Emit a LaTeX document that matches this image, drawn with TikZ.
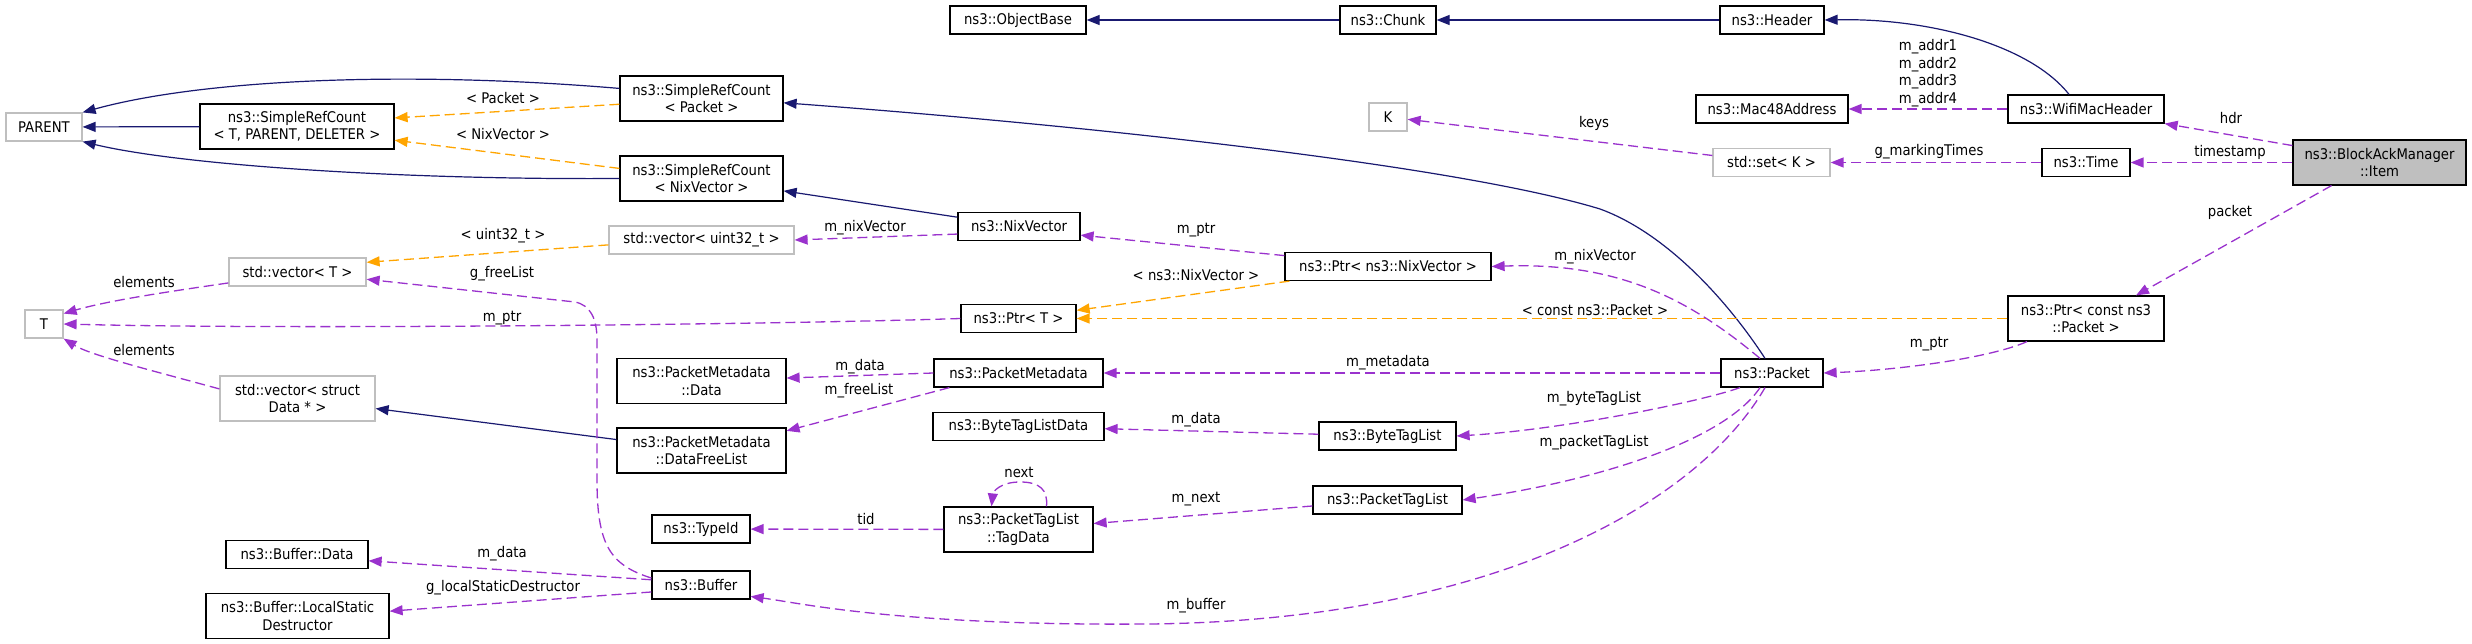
\documentclass[tikz,border=0pt]{standalone}
\usepackage{fontspec}
\setmainfont{DejaVu Sans Condensed}
\usetikzlibrary{arrows.meta}
\definecolor{inhblue}{HTML}{191970}
\definecolor{tmplorange}{HTML}{FFA500}
\definecolor{usepurple}{HTML}{9A32CD}
\definecolor{extgray}{HTML}{BFBFBF}
\begin{document}
\begin{tikzpicture}[x=1pt, y=-1pt,
    font=\fontsize{14.7}{17.5}\selectfont,
    cls/.style={draw=black, line width=1.2pt, fill=white, inner sep=0pt, minimum height=28pt, align=center},
    extcls/.style={cls, draw=extgray},
    focuscls/.style={cls, fill=extgray},
    twoline/.style={minimum height=45pt},
    inherit/.style={draw=inhblue, line width=1.2pt, -{Triangle[length=13pt,width=10pt]}},
    templ/.style={draw=tmplorange, line width=1.3pt, dash pattern=on 10pt off 5pt, -{Triangle[length=13pt,width=10pt]}},
    member/.style={draw=usepurple, line width=1.3pt, dash pattern=on 10pt off 5pt, -{Triangle[length=13pt,width=10pt]}},
    lbl/.style={inner sep=1pt, align=center}]
  \useasboundingbox (0,0) rectangle (2472,644);
  % classes
  \node[extcls, minimum width=76pt] (parent) at (44,127) {PARENT};
  \node[cls, twoline, minimum width=194pt] (srct) at (297,126.5) {ns3::SimpleRefCount\\< T, PARENT, DELETER >};
  \node[cls, twoline, minimum width=163pt] (srcpk) at (701.5,98.5) {ns3::SimpleRefCount\\< Packet >};
  \node[cls, twoline, minimum width=163pt] (srcnv) at (701.5,178.5) {ns3::SimpleRefCount\\< NixVector >};
  \node[extcls, minimum width=185pt] (vecu) at (701.5,240) {std::vector< uint32\_t >};
  \node[extcls, minimum width=137pt] (vect) at (297.5,272) {std::vector< T >};
  \node[extcls, minimum width=38pt] (tt) at (44,324) {T};
  \node[extcls, twoline, minimum width=155pt] (vecd) at (297.5,398.5) {std::vector< struct\\Data * >};
  \node[cls, twoline, minimum width=169pt] (pmdata) at (701.5,381) {ns3::PacketMetadata\\::Data};
  \node[cls, twoline, minimum width=169pt] (pmfree) at (701.5,450.5) {ns3::PacketMetadata\\::DataFreeList};
  \node[cls, minimum width=98pt] (typeid) at (701,529) {ns3::TypeId};
  \node[cls, minimum width=142pt] (bufdata) at (297,554.5) {ns3::Buffer::Data};
  \node[cls, minimum width=98pt] (buffer) at (701,585) {ns3::Buffer};
  \node[cls, twoline, minimum width=183pt] (bufdtor) at (297.5,616) {ns3::Buffer::LocalStatic\\Destructor};
  \node[cls, minimum width=136pt] (objbase) at (1018,20) {ns3::ObjectBase};
  \node[cls, minimum width=96pt] (chunk) at (1388,20) {ns3::Chunk};
  \node[extcls, minimum width=38pt] (kk) at (1388,117) {K};
  \node[cls, minimum width=122pt] (nixvec) at (1019,226.5) {ns3::NixVector};
  \node[cls, minimum width=206pt] (ptrnv) at (1388,266.5) {ns3::Ptr< ns3::NixVector >};
  \node[cls, minimum width=115pt] (ptrt) at (1018.5,318.5) {ns3::Ptr< T >};
  \node[cls, minimum width=169pt] (pmeta) at (1018.5,373) {ns3::PacketMetadata};
  \node[cls, minimum width=171pt] (btldata) at (1018.5,426.5) {ns3::ByteTagListData};
  \node[cls, minimum width=137pt] (btlist) at (1387.5,436) {ns3::ByteTagList};
  \node[cls, twoline, minimum width=149pt] (ptdata) at (1018.5,529.5) {ns3::PacketTagList\\::TagData};
  \node[cls, minimum width=149pt] (ptlist) at (1387.5,500) {ns3::PacketTagList};
  \node[cls, minimum width=104pt] (header) at (1772,20) {ns3::Header};
  \node[cls, minimum width=152pt] (mac48) at (1772,109) {ns3::Mac48Address};
  \node[cls, minimum width=156pt] (wifihdr) at (2086,109) {ns3::WifiMacHeader};
  \node[extcls, minimum width=117pt] (setk) at (1771.5,162.5) {std::set< K >};
  \node[cls, minimum width=88pt] (time) at (2086,162.5) {ns3::Time};
  \node[focuscls, twoline, minimum width=173pt] (item) at (2379.5,162.5) {ns3::BlockAckManager\\::Item};
  \node[cls, twoline, minimum width=156pt] (ptrpk) at (2086,318.5) {ns3::Ptr< const ns3\\::Packet >};
  \node[cls, minimum width=102pt] (packet) at (1772,373) {ns3::Packet};
  % inheritance
  \draw[inherit] (srct) -- (parent);
  \draw[inherit] (srcpk.173) .. controls (400,70) and (200,80) .. (parent.north east);
  \draw[inherit] (srcnv.west) .. controls (400,180) and (180,165) .. (parent.south east);
  \draw[inherit] ([xshift=-7pt]packet.north) .. controls (1727,300) and (1666,233) .. (1600,209) .. controls (1456,165) and (1083,125) .. (srcpk.-3);
  \draw[inherit] (nixvec) -- (srcnv);
  \draw[inherit] (chunk) -- (objbase);
  \draw[inherit] (header) -- (chunk);
  \draw[inherit] ([xshift=-17pt]wifihdr.north) .. controls (2030,45) and (1930,18) .. (header.east);
  \draw[inherit] (pmfree) -- (vecd);
  % template instances
  \draw[templ] (srcpk.184) -- (srct.5);
  \draw[templ] (srcnv.173) -- (srct.-8);
  \draw[templ] (vecu.183) -- (vect.8);
  \draw[templ] ([xshift=5pt]ptrnv.south west) -- (ptrt.8);
  \draw[templ] (ptrpk) -- (ptrt);
  % members
  \draw[member] (vect.189) .. controls (180,290) and (110,300) .. (tt.28);
  \draw[member] (vecd.173) .. controls (150,370) and (90,355) .. (tt.south east);
  \draw[member] (ptrt.west) .. controls (800,324) and (300,330) .. (tt.east);
  \draw[member] (buffer.172) .. controls (610,565) and (597,545) .. (597,480) -- (597,340) .. controls (597,318) and (590,305) .. (575,302) -- (vect.-6);
  \draw[member] (pmeta.west) -- (pmdata.2);
  \draw[member] ([xshift=16pt]pmeta.south west) -- (pmfree.13);
  \draw[member] (packet) -- (pmeta);
  \draw[member] (btlist) -- (btldata);
  \draw[member] ([xshift=-32pt]packet.south) .. controls (1700,402) and (1560,430) .. (btlist.east);
  \draw[member] ([xshift=-12pt]packet.south) .. controls (1725,440) and (1600,480) .. (ptlist.east);
  \draw[member] (ptlist) -- (ptdata);
  \draw[member] ([xshift=28pt]ptdata.north) .. controls (1048,490) and (1040,482) .. (1020,482) .. controls (1000,482) and (993,492) .. ([xshift=-27pt]ptdata.north);
  \draw[member] (ptdata) -- (typeid);
  \draw[member] (buffer.174) -- (bufdata.-5);
  \draw[member] (buffer.188) -- (bufdtor.3);
  \draw[member] ([xshift=-7pt]packet.south) .. controls (1700,500) and (1500,620) .. (1150,624) .. controls (900,626) and (800,603) .. (buffer.-13);
  \draw[member] ([xshift=-12pt]packet.north) .. controls (1690,300) and (1620,262) .. (ptrnv.east);
  \draw[member] (ptrnv.174) -- (nixvec.-8);
  \draw[member] (nixvec.187) -- (vecu.east);
  \draw[member] (setk) -- (kk);
  \draw[member] (time) -- (setk);
  \draw[member] (wifihdr) -- (mac48);
  \draw[member] (item.169) -- (wifihdr.south east);
  \draw[member] (item) -- (time);
  \draw[member] ([xshift=-48pt]item.south) -- ([xshift=50pt]ptrpk.north);
  \draw[member] ([xshift=-59pt]ptrpk.south) .. controls (1990,358) and (1900,370) .. (packet.east);
  % edge labels
  \node[lbl] (l-pk) at (503,98) {< Packet >};
  \node[lbl] (l-nv) at (503,134) {< NixVector >};
  \node[lbl] (l-u32) at (503,236) {< uint32\_t >};
  \node[lbl] (l-el1) at (144,282) {elements};
  \node[lbl] (l-fl) at (502,274) {g\_freeList};
  \node[lbl] (l-tptr) at (502,318) {m\_ptr};
  \node[lbl] (l-el2) at (144,350) {elements};
  \node[lbl] (l-pmd) at (860,367) {m\_data};
  \node[lbl] (l-pmf) at (859,391) {m\_freeList};
  \node[lbl] (l-meta) at (1388,363) {m\_metadata};
  \node[lbl] (l-btd) at (1196,420) {m\_data};
  \node[lbl] (l-btl) at (1594,399) {m\_byteTagList};
  \node[lbl] (l-ptl) at (1594,443) {m\_packetTagList};
  \node[lbl] (l-next) at (1019,472) {next};
  \node[lbl] (l-mnext) at (1196,499) {m\_next};
  \node[lbl] (l-tid) at (866,519) {tid};
  \node[lbl] (l-bd) at (502,554) {m\_data};
  \node[lbl] (l-lsd) at (503,588) {g\_localStaticDestructor};
  \node[lbl] (l-buf) at (1196,606) {m\_buffer};
  \node[lbl] (l-pnv) at (1595,257) {m\_nixVector};
  \node[lbl] (l-nvptr) at (1196,230) {m\_ptr};
  \node[lbl] (l-nvv) at (865,228) {m\_nixVector};
  \node[lbl] (l-tnv) at (1196,275) {< ns3::NixVector >};
  \node[lbl] (l-tcp) at (1595,310) {< const ns3::Packet >};
  \node[lbl] (l-keys) at (1594,123) {keys};
  \node[lbl] (l-mark) at (1929,152) {g\_markingTimes};
  \node[lbl] (l-addr) at (1928,73) {m\_addr1\\m\_addr2\\m\_addr3\\m\_addr4};
  \node[lbl] (l-hdr) at (2231,118) {hdr};
  \node[lbl] (l-ts) at (2230,152) {timestamp};
  \node[lbl] (l-pkt) at (2230,212) {packet};
  \node[lbl] (l-pptr) at (1929,344) {m\_ptr};
\end{tikzpicture}
\end{document}
